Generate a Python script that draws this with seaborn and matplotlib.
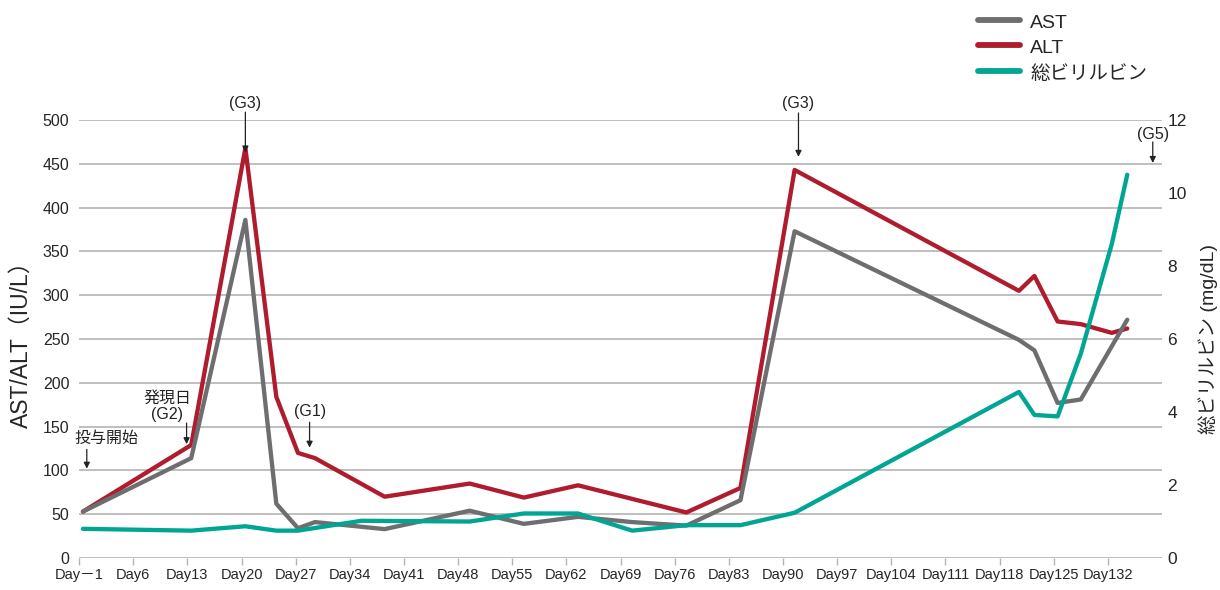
import matplotlib
matplotlib.use("Agg")
import matplotlib.pyplot as plt
import seaborn as sns
import pandas as pd

# values (day index, lab value)
ast_days = [-0.5, 13.5, 20.5, 24.5, 27.3, 29.5, 38.5, 49.5, 56.5, 63.5, 70.5, 77.5, 84.5, 91.5,
            120.5, 122.5, 125.5, 128.5, 134.5]
ast_vals = [53, 114, 386, 62, 34, 41, 33, 54, 39, 47, 41, 37, 66, 373,
            249, 237, 177, 181, 272]

alt_days = [-0.5, 13.5, 20.5, 24.5, 27.3, 29.5, 38.5, 49.5, 56.5, 63.5, 77.5, 84.5, 91.5,
            120.5, 122.5, 125.5, 128.5, 132.5, 134.5]
alt_vals = [53, 129, 468, 184, 120, 114, 70, 85, 69, 83, 52, 80, 443,
            305, 322, 270, 267, 257, 262]

bili_days = [-0.5, 13.5, 20.5, 24.5, 27.3, 35.5, 49.5, 56.5, 63.5, 70.5, 77.5, 84.5, 91.5,
             120.5, 122.5, 125.5, 128.5, 132.5, 134.5]
bili_vals = [0.8, 0.75, 0.87, 0.75, 0.75, 1.02, 1.0, 1.22, 1.22, 0.75, 0.9, 0.9, 1.24,
             4.55, 3.92, 3.88, 5.6, 8.6, 10.5]

tick_days = list(range(-1, 133, 7))
tick_labels = ["Day－1"] + [f"Day{d}" for d in tick_days[1:]]

# (text, text position, arrow start, arrow tip) in data units
notes = [
    ("投与開始", (2.6, 136), (0.0, 124), (0.0, 102)),
    ("発現日\n(G2)", (10.4, 173), (12.9, 154), (12.9, 130)),
    ("(G1)", (28.8, 167), (28.8, 155), (28.8, 126)),
    ("(G3)", (20.5, 519), (20.5, 509), (20.5, 463)),
    ("(G3)", (92.0, 519), (92.0, 508), (92.0, 458)),
    ("(G5)", (137.8, 484), (137.8, 475), (137.8, 451)),
]

c_ast = "#6e6e71"
c_alt = "#af1c2d"
c_bili = "#00a693"
c_grid = "#b4b4b4"

sns.set_theme(style="white")
plt.rcParams["font.family"] = ["Liberation Sans", "Noto Sans CJK JP", "DejaVu Sans"]

fig = plt.figure(figsize=(12.2, 5.9), dpi=100)
ax = fig.add_axes([0.0648, 0.0542, 0.8877, 0.7424])
ax2 = ax.twinx()

df_alt = pd.DataFrame({"day": alt_days, "value": alt_vals})
df_ast = pd.DataFrame({"day": ast_days, "value": ast_vals})
df_bili = pd.DataFrame({"day": bili_days, "value": bili_vals})

sns.lineplot(data=df_alt, x="day", y="value", color=c_alt, lw=3.1, ax=ax, label="ALT", legend=False)
sns.lineplot(data=df_ast, x="day", y="value", color=c_ast, lw=3.1, ax=ax, label="AST", legend=False)
sns.lineplot(data=df_bili, x="day", y="value", color=c_bili, lw=3.1, ax=ax2, label="総ビリルビン", legend=False)

ax.set_xlim(-1, 139)
ax.set_ylim(0, 500)
ax2.set_ylim(0, 12)
ax.set_yticks(range(0, 501, 50))
ax2.set_yticks(range(0, 13, 2))
ax.set_xticks(tick_days)
ax.set_xticklabels(tick_labels)

ax.grid(axis="y", color=c_grid, lw=1.2)
ax.grid(axis="x", visible=False)
ax.set_axisbelow(True)
for a in (ax, ax2):
    for side in ("top", "right", "left", "bottom"):
        a.spines[side].set_visible(False)

ax.tick_params(axis="x", length=5, width=1, color=c_grid, labelsize=10.5, pad=2, bottom=True)
ax.tick_params(axis="y", length=0, labelsize=11.5, pad=7)
ax2.tick_params(axis="y", length=0, labelsize=12.5, pad=4)

ax.set_xlabel("")
ax.set_ylabel("AST/ALT（IU/L）", fontsize=16.5)
ax.yaxis.set_label_coords(-0.0425, 0.5)
ax2.set_ylabel("総ビリルビン (mg/dL)", fontsize=14, rotation=90)
ax2.yaxis.set_label_coords(1.033, 0.5)

arrow = dict(arrowstyle="-|>", color="#222222", lw=0.9, mutation_scale=9, shrinkA=0, shrinkB=0)
for text, pos, start, tip in notes:
    ax.text(pos[0], pos[1], text, ha="center", va="center", fontsize=11.5,
            color="#222222", linespacing=1.05, clip_on=False)
    ax.annotate("", xy=tip, xytext=start, arrowprops=arrow, annotation_clip=False)

handles = [ax.lines[1], ax.lines[0], ax2.lines[0]]
fig.legend(handles, ["AST", "ALT", "総ビリルビン"], loc="upper left",
           bbox_to_anchor=(0.787, 1.01), frameon=False, fontsize=14,
           handlelength=2.2, handleheight=1.1, labelspacing=0.3, handletextpad=0.5)
for h in fig.legends[0].get_lines():
    h.set_linewidth(4.2)

fig.savefig("out.png", dpi=100)
